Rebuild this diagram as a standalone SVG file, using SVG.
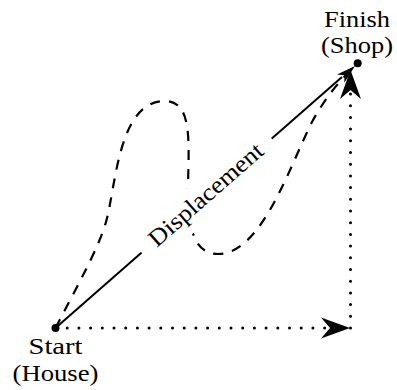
<svg xmlns="http://www.w3.org/2000/svg" xmlns:xlink="http://www.w3.org/1999/xlink" width="397" height="390" viewBox="0 0 397 390">
  <style>
    .lbl { font-family: "Liberation Serif", "Times New Roman", serif; font-size: 24px; fill: #000; text-anchor: middle; }
    .solid { fill: none; stroke: #000; stroke-width: 2; }
    .dashed { fill: none; stroke: #000; stroke-width: 2.2; stroke-dasharray: 10 9; }
    .dotted { fill: none; stroke: #000; stroke-width: 3; stroke-linecap: round; stroke-dasharray: 0 11.7; }
    .head { fill: #000; stroke: none; }
    .dot { fill: #000; }
  </style>
  <defs>
    <path id="stealth" d="M0,0 L-29,-10.5 L-20,0 L-29,10.5 Z"/>
    <path id="stealthSmall" d="M0,0 L-19,-5.5 L-14,0 L-19,5.5 Z"/>
  </defs>
  <rect x="0" y="0" width="397" height="390" fill="#fff"/>
  <g id="connectors">
    <path id="path-dashed" class="dashed" d="M55.5,328 C75,290 98,250 106,222 C116,187 118,101 165,101 C192,101 189,140 188,185 C187,230 195,254 218,254 C262,254 290,165 312,122 C325,98 340,80 355,66"/>
    <path id="displacement-line" class="solid" d="M55.5,328 L342,77"/>
    <path id="dotted-horizontal" class="dotted" d="M55.5,328 L333,328"/>
    <path id="dotted-vertical" class="dotted" d="M350.5,328 L350.5,92"/>
    <g id="displacement-label" transform="translate(207,196) rotate(-41.2)">
      <rect x="-86.5" y="-19" width="173" height="38" fill="#fff"/>
      <text class="lbl" x="0" y="6" textLength="144" lengthAdjust="spacingAndGlyphs">Displacement</text>
    </g>
    <use class="head" xlink:href="#stealth" href="#stealth" transform="translate(350,328)"/>
    <use class="head" xlink:href="#stealth" href="#stealth" transform="translate(350.5,70) rotate(-90)"/>
    <use class="head" xlink:href="#stealthSmall" href="#stealthSmall" transform="translate(355,66) rotate(-41.2)"/>
  </g>
  <g id="start">
    <circle class="dot" cx="55.5" cy="328" r="4"/>
    <text class="lbl" x="55.5" y="354" textLength="54" lengthAdjust="spacingAndGlyphs">Start</text>
    <text class="lbl" x="55.5" y="381" textLength="86" lengthAdjust="spacingAndGlyphs">(House)</text>
  </g>
  <g id="finish">
    <circle class="dot" cx="357.7" cy="63.3" r="4"/>
    <text class="lbl" x="357" y="27" textLength="66" lengthAdjust="spacingAndGlyphs">Finish</text>
    <text class="lbl" x="357" y="53" textLength="72" lengthAdjust="spacingAndGlyphs">(Shop)</text>
  </g>
</svg>
